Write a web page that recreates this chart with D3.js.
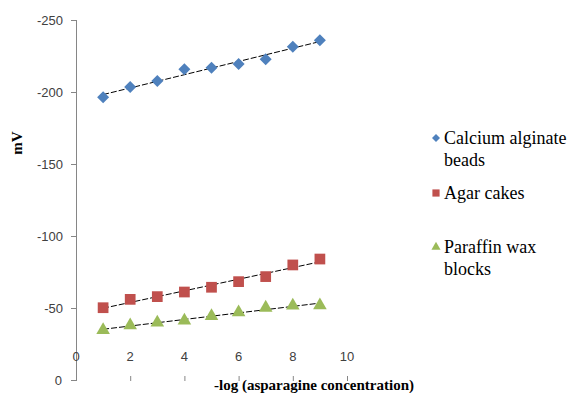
<!DOCTYPE html>
<html>
<head>
<meta charset="UTF-8">
<script src="https://d3js.org/d3.v7.min.js"></script>
<style>
  body { margin: 0; background: #fff; }
</style>
</head>
<body>
<svg id="chart" width="568" height="393"></svg>
<script>
// data
const xValues = [1, 2, 3, 4, 5, 6, 7, 8, 9];
const calcium = [-196.3, -203.5, -207.6, -215.8, -216.9, -219.4, -222.7, -231.5, -235.9];
const agar = [-50.2, -56.0, -57.9, -61.1, -64.4, -68.3, -71.8, -79.9, -84.0];
const paraffin = [-34.7, -38.0, -39.8, -41.2, -44.4, -47.0, -50.2, -51.6, -51.9];
const xTicks = [0, 2, 4, 6, 8, 10];
const yTicks = [-250, -200, -150, -100, -50, 0];

const sansFont = "'Liberation Sans', Arial, sans-serif";
const serifFont = "'Liberation Serif', 'Times New Roman', serif";

const series = [
  { name: ["Calcium alginate", "beads"], values: calcium, color: "#4F81BD", shape: d3.symbolSquare, rot: 45, size: 72, legendY: 138 },
  { name: ["Agar cakes"], values: agar, color: "#C0504D", shape: d3.symbolSquare, rot: 0, size: 115, legendY: 193 },
  { name: ["Paraffin wax", "blocks"], values: paraffin, color: "#9BBB59", shape: d3.symbolTriangle, rot: 0, size: 80, legendY: 247 }
];

const svg = d3.select("#chart");
const x = d3.scaleLinear().domain([0, 10]).range([76, 347]);
const y = d3.scaleLinear().domain([0, -250]).range([380, 20]);

// y axis line + ticks
svg.append("line").attr("x1", 76.5).attr("x2", 76.5).attr("y1", y(-250)).attr("y2", y(0))
  .attr("stroke", "#868686").attr("stroke-width", 1);
svg.selectAll(".ytick").data(yTicks).enter().append("line")
  .attr("x1", 71).attr("x2", 76).attr("y1", d => y(d) + 0.5).attr("y2", d => y(d) + 0.5)
  .attr("stroke", "#868686");
svg.selectAll(".ylab").data(yTicks).enter().append("text")
  .attr("x", d => d === 0 ? 62 : 63).attr("y", d => y(d)).attr("dy", "0.35em")
  .attr("text-anchor", "end")
  .attr("font-family", sansFont).attr("font-size", 13).attr("fill", "#404040")
  .text(d => d);

// x ticks (no axis line visible)
svg.selectAll(".xtick").data(xTicks).enter().append("line")
  .attr("x1", d => x(d) + 0.5).attr("x2", d => x(d) + 0.5).attr("y1", 376).attr("y2", 381)
  .attr("stroke", "#868686");
svg.selectAll(".xlab").data(xTicks).enter().append("text")
  .attr("x", d => x(d)).attr("y", 356).attr("dy", "0.35em")
  .attr("text-anchor", "middle")
  .attr("font-family", sansFont).attr("font-size", 13).attr("fill", "#404040")
  .text(d => d);

// linear trend lines
series.forEach(s => {
  const n = xValues.length;
  const mx = d3.mean(xValues), my = d3.mean(s.values);
  let num = 0, den = 0;
  xValues.forEach((xv, i) => { num += (xv - mx) * (s.values[i] - my); den += (xv - mx) ** 2; });
  const slope = num / den, icpt = my - slope * mx;
  svg.append("line")
    .attr("x1", x(xValues[0])).attr("y1", y(icpt + slope * xValues[0]))
    .attr("x2", x(xValues[n - 1])).attr("y2", y(icpt + slope * xValues[n - 1]))
    .attr("stroke", "#000").attr("stroke-width", 1).attr("stroke-dasharray", "6,2");
});

// markers
series.forEach(s => {
  const sym = d3.symbol().type(s.shape).size(s.size);
  svg.append("g").selectAll("path").data(s.values).enter().append("path")
    .attr("d", sym)
    .attr("transform", (d, i) => `translate(${x(xValues[i])},${y(d)}) rotate(${s.rot})`)
    .attr("fill", s.color);
});

// legend
series.forEach(s => {
  svg.append("path").attr("d", d3.symbol().type(s.shape).size(s.size * 0.45)())
    .attr("transform", `translate(436,${s.legendY}) rotate(${s.rot})`).attr("fill", s.color);
  s.name.forEach((line, j) => {
    svg.append("text").attr("x", 444).attr("y", s.legendY + j * 22)
      .attr("dy", "0.35em")
      .attr("font-family", serifFont).attr("font-size", 18).attr("fill", "#000")
      .text(line);
  });
});

// axis titles
svg.append("text").attr("transform", "translate(22,143) rotate(-90)")
  .attr("text-anchor", "middle")
  .attr("font-family", serifFont).attr("font-size", 15).attr("font-weight", "bold")
  .text("mV");
svg.append("text").attr("x", 314).attr("y", 390)
  .attr("text-anchor", "middle")
  .attr("font-family", serifFont).attr("font-size", 15).attr("font-weight", "bold")
  .text("-log (asparagine concentration)");
</script>
</body>
</html>
